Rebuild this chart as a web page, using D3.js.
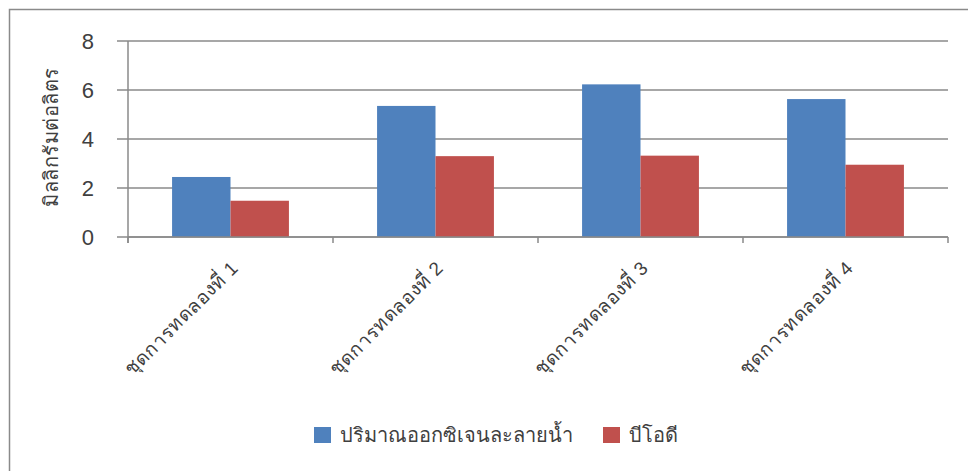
<!DOCTYPE html>
<html>
<head>
<meta charset="utf-8">
<script src="https://cdn.jsdelivr.net/npm/d3@7"></script>
<style>
  body { margin: 0; background: #fff; }
  svg text { font-family: "Liberation Sans", "Noto Sans", sans-serif; fill: #404040; }
  .grid line { stroke: #8a8a8a; stroke-width: 1.5; }
  .axis path, .axis line { stroke: #8a8a8a; stroke-width: 1.5; }
</style>
</head>
<body>
<div id="vis"></div>
<script>
const categories = ['ชุดการทดลองที่ 1', 'ชุดการทดลองที่ 2', 'ชุดการทดลองที่ 3', 'ชุดการทดลองที่ 4'];
const seriesNames = ['ปริมาณออกซิเจนละลายน้ำ', 'บีโอดี'];
const dissolvedOxygen = [2.45, 5.35, 6.23, 5.63];
const bod = [1.48, 3.3, 3.32, 2.95];
const yTicks = [0, 2, 4, 6, 8];
const colors = ['#4f81bd', '#c0504d'];

const W = 968, H = 471;
const margin = {top: 41, right: 20, bottom: 234, left: 128};
const width = 948 - margin.left;
const height = 237 - margin.top;

const svg = d3.select('#vis')
    .append('svg')
    .attr('width', W)
    .attr('height', H);

// chart frame
svg.append('rect')
    .attr('x', 9.5).attr('y', 9.5)
    .attr('width', W + 10).attr('height', H + 10)
    .attr('fill', 'none')
    .attr('stroke', '#8a8a8a')
    .attr('stroke-width', 1.5);

const g = svg.append('g')
    .attr('transform', `translate(${margin.left},${margin.top})`);

const x0 = d3.scaleBand()
    .domain(categories)
    .range([0, width])
    .paddingInner(0.43)
    .paddingOuter(0.215);

const x1 = d3.scaleBand()
    .domain(seriesNames)
    .range([0, x0.bandwidth()]);

const y = d3.scaleLinear()
    .domain([0, 8])
    .range([height, 0]);

// gridlines
g.append('g')
    .attr('class', 'grid')
    .selectAll('line')
    .data(yTicks)
    .enter()
    .append('line')
    .attr('x1', -11)
    .attr('x2', width)
    .attr('y1', d => y(d))
    .attr('y2', d => y(d));

// y axis
const yAxis = g.append('g')
    .attr('class', 'axis')
    .call(d3.axisLeft(y).tickValues(yTicks).tickSize(0).tickPadding(34));
yAxis.select('.domain').remove();
yAxis.selectAll('text').style('font-size', '22px').attr('dy', '0.36em');
g.append('line')
    .attr('x1', 0).attr('x2', 0)
    .attr('y1', 0).attr('y2', height + 6)
    .attr('stroke', '#8a8a8a')
    .attr('stroke-width', 1.5);

// bars
const rows = categories.map((c, i) => ({cat: c, vals: [dissolvedOxygen[i], bod[i]]}));
const groups = g.selectAll('.cat')
    .data(rows)
    .enter()
    .append('g')
    .attr('transform', d => `translate(${x0(d.cat)},0)`);

groups.selectAll('rect')
    .data(d => d.vals.map((v, j) => ({name: seriesNames[j], v: v, j: j})))
    .enter()
    .append('rect')
    .attr('x', d => x1(d.name))
    .attr('y', d => y(d.v))
    .attr('width', x1.bandwidth())
    .attr('height', d => height - y(d.v))
    .attr('fill', d => colors[d.j]);

// x axis
const step = x0.step();
const xAxis = g.append('g')
    .attr('class', 'axis')
    .attr('transform', `translate(0,${height})`);
xAxis.append('line')
    .attr('x1', 0).attr('x2', width)
    .attr('stroke', '#8a8a8a').attr('stroke-width', 1.5);
xAxis.selectAll('.tk')
    .data(d3.range(categories.length + 1))
    .enter()
    .append('line')
    .attr('x1', d => d * step).attr('x2', d => d * step)
    .attr('y1', 0).attr('y2', 6)
    .attr('stroke', '#8a8a8a').attr('stroke-width', 1.5);

xAxis.selectAll('.xl')
    .data(categories)
    .enter()
    .append('text')
    .attr('text-anchor', 'end')
    .attr('transform', d => `translate(${x0(d) + x0.bandwidth() / 2 + 9},${32}) rotate(-45)`)
    .style('font-size', '19px')
    .style('letter-spacing', '0.6px')
    .text(d => d);

// y title
svg.append('text')
    .attr('transform', `translate(${58},${margin.top + height / 2 - 2}) rotate(-90)`)
    .attr('text-anchor', 'middle')
    .style('font-size', '20px')
    .style('letter-spacing', '0.5px')
    .text('มิลลิกรัมต่อลิตร');

// legend
const legend = svg.append('g')
    .attr('transform', 'translate(314,427)');
const legX = [0, 289];
seriesNames.forEach((n, i) => {
    legend.append('rect')
        .attr('x', legX[i]).attr('y', 0)
        .attr('width', 17).attr('height', 16)
        .attr('fill', colors[i]);
    legend.append('text')
        .attr('x', legX[i] + 26).attr('y', 15)
        .style('font-size', '20px')
        .text(n);
});
</script>
</body>
</html>
